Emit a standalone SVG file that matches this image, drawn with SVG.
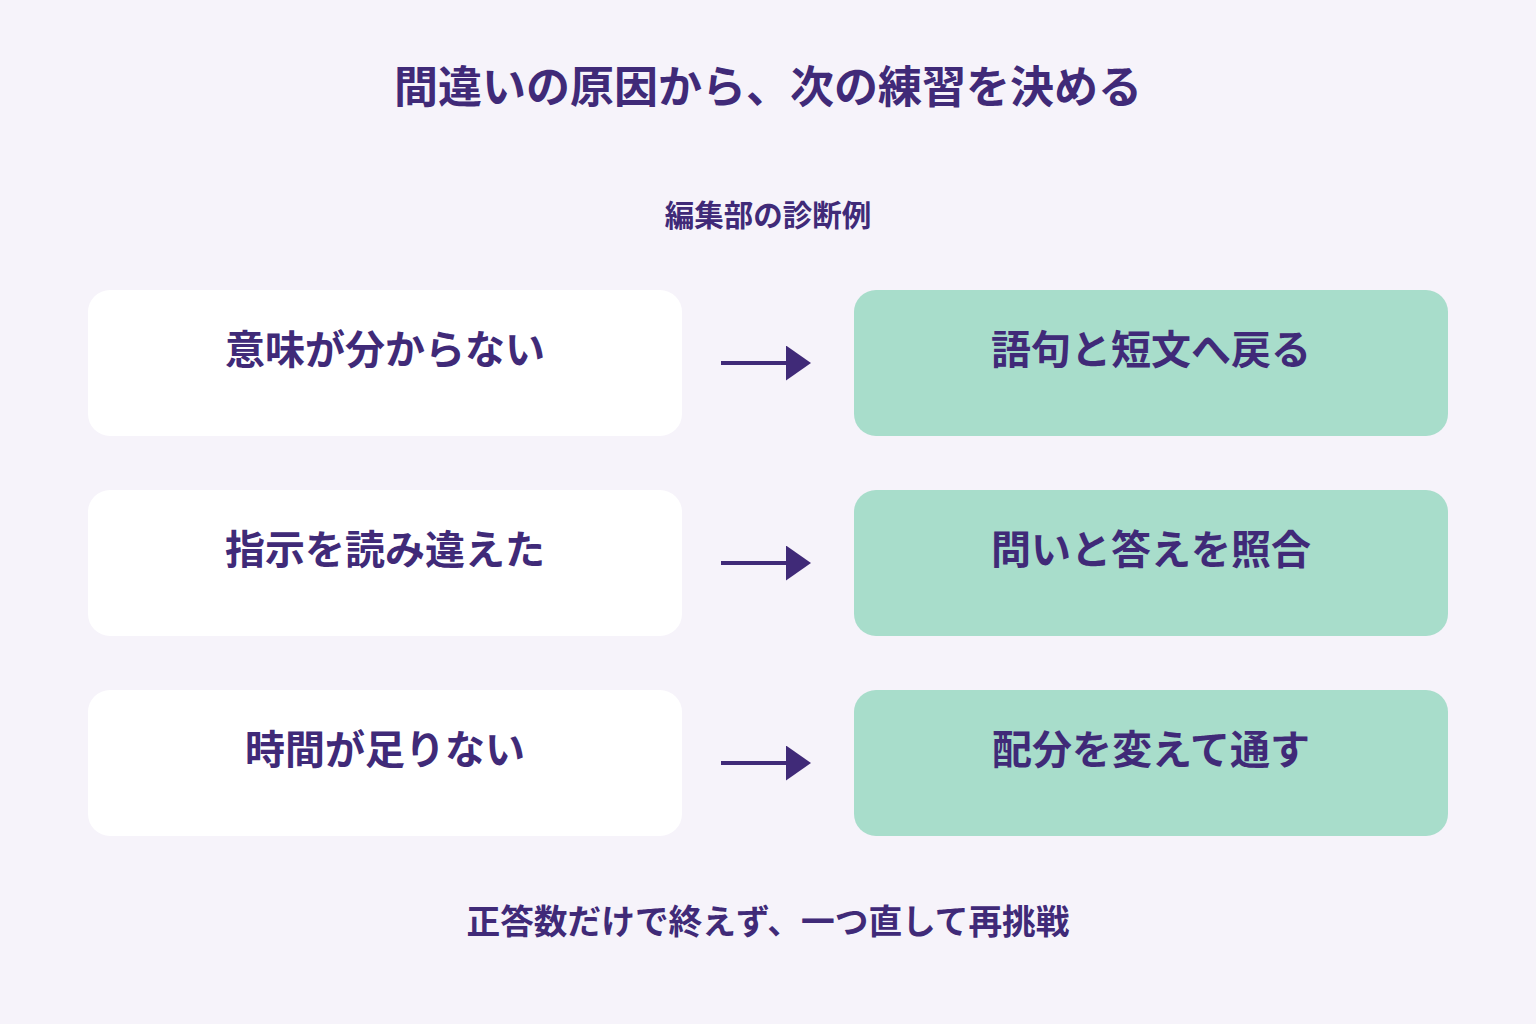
<svg xmlns="http://www.w3.org/2000/svg" width="1536" height="1024" viewBox="0 0 1536 1024">
<style>
text{font-family:"Noto Sans CJK JP","Noto Sans CJK SC",sans-serif;font-weight:700;fill:#402a78;text-anchor:middle}
.t{font-size:44px}
.s{font-size:29.5px}
.b{font-size:40px}
.f{font-size:33.7px}
.l{fill:#ffffff}
.r{fill:#a8ddcb}
.c{stroke:#402a78;stroke-width:4;fill:none}
</style>
<defs>
<marker id="ah" markerWidth="25" markerHeight="35" refX="0" refY="17.5" orient="auto" markerUnits="userSpaceOnUse">
<path d="M0,0 L25,17.5 L0,35 Z" fill="#402a78"/>
</marker>
</defs>
<rect width="1536" height="1024" fill="#f6f3fa"/>
<text class="t" x="768" y="103">間違いの原因から、次の練習を決める</text>
<text class="s" x="768" y="226">編集部の診断例</text>
<g id="n1"><rect class="l" x="88" y="290" width="594" height="146" rx="22"/><text class="b" x="385" y="364">意味が分からない</text></g>
<g id="n2"><rect class="r" x="854" y="290" width="594" height="146" rx="22"/><text class="b" x="1151" y="364">語句と短文へ戻る</text></g>
<g id="n3"><rect class="l" x="88" y="490" width="594" height="146" rx="22"/><text class="b" x="385" y="564">指示を読み違えた</text></g>
<g id="n4"><rect class="r" x="854" y="490" width="594" height="146" rx="22"/><text class="b" x="1151" y="564">問いと答えを照合</text></g>
<g id="n5"><rect class="l" x="88" y="690" width="594" height="146" rx="22"/><text class="b" x="385" y="764">時間が足りない</text></g>
<g id="n6"><rect class="r" x="854" y="690" width="594" height="146" rx="22"/><text class="b" x="1151" y="764">配分を変えて通す</text></g>
<g id="connectors">
<path class="c" d="M721,363 H786" marker-end="url(#ah)"/>
<path class="c" d="M721,563 H786" marker-end="url(#ah)"/>
<path class="c" d="M721,763 H786" marker-end="url(#ah)"/>
</g>
<text class="f" x="768" y="934">正答数だけで終えず、一つ直して再挑戦</text>
</svg>
